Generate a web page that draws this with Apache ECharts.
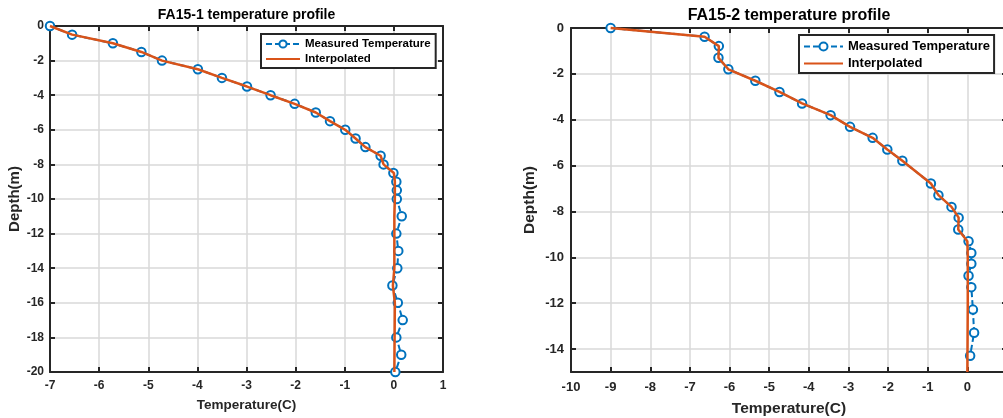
<!DOCTYPE html>
<html>
<head>
<meta charset="utf-8">
<script src="https://cdn.jsdelivr.net/npm/echarts@6/dist/echarts.min.js"></script>
<style>html,body{margin:0;padding:0;background:#fff}#c{width:1003px;height:418px}</style>
</head>
<body>
<div id="c"></div>
<script>
// ---- FA15-1 ----
const leftDepth = [0,-0.5,-1,-1.5,-2,-2.5,-3,-3.5,-4,-4.5,-5,-5.5,-6,-6.5,-7,-7.5,-8,-8.5,-9,-9.5,-10,-11,-12,-13,-14,-15,-16,-17,-18,-19,-20];
const leftMeasured = [-7,-6.55,-5.72,-5.14,-4.72,-3.99,-3.5,-2.99,-2.51,-2.02,-1.59,-1.3,-0.99,-0.78,-0.58,-0.27,-0.21,-0.01,0.05,0.06,0.06,0.16,0.05,0.09,0.07,-0.03,0.08,0.18,0.05,0.15,0.03];
const leftInterpDepth = [0,-0.5,-1,-1.5,-2,-2.5,-3,-3.5,-4,-4.5,-5,-5.5,-6,-6.5,-7,-7.5,-8,-8.5,-9,-10,-11,-14,-15,-16,-20];
const leftInterp = [-7,-6.55,-5.72,-5.14,-4.72,-3.99,-3.5,-2.99,-2.51,-2.02,-1.59,-1.3,-0.99,-0.78,-0.58,-0.27,-0.21,0.0,0.02,0.02,0.01,0.01,-0.02,0.02,0.01];
const leftXTicks = [-7,-6,-5,-4,-3,-2,-1,0,1];
const leftYTicks = [0,-2,-4,-6,-8,-10,-12,-14,-16,-18,-20];
const leftRange = {xmin:-7, xmax:1, ymin:-20, ymax:0};

// ---- FA15-2 ----
const rightDepth = [0,-0.38,-0.79,-1.3,-1.8,-2.3,-2.79,-3.29,-3.8,-4.31,-4.79,-5.3,-5.79,-6.78,-7.29,-7.8,-8.27,-8.79,-9.3,-9.81,-10.28,-10.8,-11.3,-12.28,-13.29,-14.29];
const rightMeasured = [-9,-6.63,-6.27,-6.28,-6.03,-5.35,-4.74,-4.17,-3.45,-2.96,-2.39,-2.02,-1.64,-0.92,-0.73,-0.4,-0.22,-0.23,0.03,0.1,0.1,0.03,0.1,0.14,0.17,0.07];
const rightInterpDepth = [0,-0.38,-0.79,-1.3,-1.8,-2.3,-2.79,-3.29,-3.8,-4.31,-4.79,-5.3,-5.79,-6.78,-7.29,-7.8,-8.27,-8.79,-9.3,-10,-12,-15];
const rightInterp = [-9,-6.63,-6.27,-6.28,-6.03,-5.35,-4.74,-4.17,-3.45,-2.96,-2.39,-2.02,-1.64,-0.92,-0.73,-0.4,-0.22,-0.23,0.0,0.01,0.01,0.0];
const rightXTicks = [-10,-9,-8,-7,-6,-5,-4,-3,-2,-1,0,1];
const rightYTicks = [0,-2,-4,-6,-8,-10,-12,-14];
const rightRange = {xmin:-10, xmax:1, ymin:-15, ymax:0};

const titles = ['FA15-1 temperature profile','FA15-2 temperature profile'];
const xName = 'Temperature(C)';
const yName = 'Depth(m)';
const legendNames = ['Measured Temperature','Interpolated'];

const FONT = "'Liberation Sans', Arial, Helvetica, sans-serif";
const AX = '#262626';
const BLUE = '#0072BD';
const ORANGE = '#D95319';
const GRIDC = '#d8d8d8';

function pairs(xs, ys){ return xs.map((x,i)=>[x, ys[i]]); }

function axisSet(gi, xt, yt, r, fs){
  const base = (ticks) => ({
    gridIndex: gi, type: 'value',
    axisLine: {show: true, onZero: false, lineStyle: {color: AX, width: 2}},
    axisTick: {show: true, inside: true, length: 5, customValues: ticks, lineStyle: {color: AX, width: 2}},
  });
  const xb = Object.assign(base(xt), {
    position: 'bottom', min: r.xmin, max: r.xmax,
    axisLabel: {customValues: xt, color: AX, fontFamily: FONT, fontWeight: 'bold', fontSize: fs.tick, margin: fs.xm},
    splitLine: {show: true, lineStyle: {color: GRIDC, width: 1.5}},
    name: xName, nameLocation: 'middle', nameGap: fs.xg,
    nameTextStyle: {color: AX, fontFamily: FONT, fontWeight: 'bold', fontSize: fs.xl}
  });
  const xtop = Object.assign(base(xt), {
    position: 'top', min: r.xmin, max: r.xmax,
    axisLabel: {show: false}, splitLine: {show: false},
    name: titles[gi], nameLocation: 'middle', nameGap: fs.tg,
    nameTextStyle: {color: '#000', fontFamily: FONT, fontWeight: 'bold', fontSize: fs.title}
  });
  const yl = Object.assign(base(yt), {
    position: 'left', min: r.ymin, max: r.ymax,
    axisLabel: {customValues: yt, color: AX, fontFamily: FONT, fontWeight: 'bold', fontSize: fs.tick, margin: fs.ym},
    splitLine: {show: true, lineStyle: {color: GRIDC, width: 1.5}},
    name: yName, nameLocation: 'middle', nameGap: fs.yg, nameRotate: 90,
    nameTextStyle: {color: AX, fontFamily: FONT, fontWeight: 'bold', fontSize: fs.yl}
  });
  const yr = Object.assign(base(yt), {
    position: 'right', min: r.ymin, max: r.ymax,
    axisLabel: {show: false}, splitLine: {show: false}
  });
  return {x: [xb, xtop], y: [yl, yr]};
}

const fsL = {tick: 12, xl: 13.5, yl: 15, title: 14, xm: 8, ym: 6, xg: 26, yg: 28, tg: 4};
const fsR = {tick: 13, xl: 15.5, yl: 15.5, title: 16, xm: 9, ym: 7, xg: 29, yg: 33, tg: 4};
const aL = axisSet(0, leftXTicks, leftYTicks, leftRange, fsL);
const aR = axisSet(1, rightXTicks, rightYTicks, rightRange, fsR);

function measuredSeries(gi, data){
  return {
    name: legendNames[0], type: 'line', xAxisIndex: gi*2, yAxisIndex: gi*2,
    data: data, symbol: 'emptyCircle', symbolSize: 8.5, showSymbol: true, clip: false,
    lineStyle: {color: BLUE, width: 2, type: [6, 3]},
    itemStyle: {color: BLUE, borderColor: BLUE, borderWidth: 2.2},
    z: 3, animation: false
  };
}
function interpSeries(gi, data){
  return {
    name: legendNames[1], type: 'line', xAxisIndex: gi*2, yAxisIndex: gi*2,
    data: data, symbol: 'none', clip: false,
    lineStyle: {color: ORANGE, width: 2.5},
    itemStyle: {color: ORANGE},
    z: 4, animation: false
  };
}

function legend(left, top, fs, iw, ih, gap, pad){
  return {
    orient: 'vertical', left: left, top: top,
    data: [{name: legendNames[0]}, {name: legendNames[1], itemStyle: {opacity: 0}}],
    backgroundColor: '#fff', borderColor: AX, borderWidth: 2, borderRadius: 0,
    padding: pad, itemGap: gap, itemWidth: iw, itemHeight: ih,
    textStyle: {color: '#000', fontFamily: FONT, fontWeight: 'bold', fontSize: fs},
    selectedMode: false
  };
}

const chart = echarts.init(document.getElementById('c'), null, {renderer: 'canvas'});
const option = {
  animation: false,
  grid: [
    {left: 50, top: 26, width: 393, height: 346, containLabel: false, outerBoundsMode: 'none'},
    {left: 571, top: 28, width: 436, height: 344, containLabel: false, outerBoundsMode: 'none'}
  ],
  xAxis: [aL.x[0], aL.x[1], aR.x[0], aR.x[1]],
  yAxis: [aL.y[0], aL.y[1], aR.y[0], aR.y[1]],
  legend: [
    legend(261, 34, 11.5, 34, 9, 3, [4, 5, 3, 4]),
    legend(799, 35, 13, 39, 10, 4, [5, 4, 3, 4])
  ],
  series: [
    measuredSeries(0, pairs(leftMeasured, leftDepth)),
    interpSeries(0, pairs(leftInterp, leftInterpDepth)),
    measuredSeries(1, pairs(rightMeasured, rightDepth)),
    interpSeries(1, pairs(rightInterp, rightInterpDepth))
  ]
};
chart.setOption(option);
</script>
</body>
</html>
